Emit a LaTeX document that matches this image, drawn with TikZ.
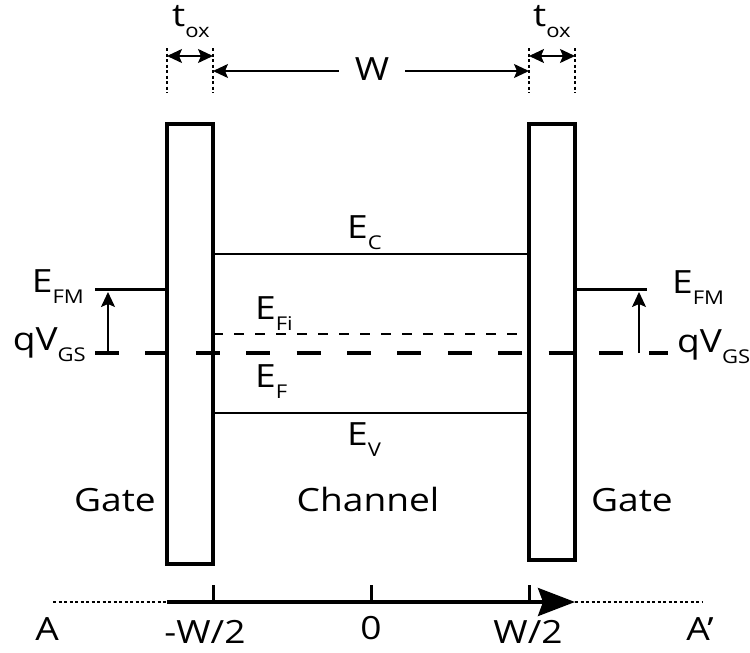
\documentclass[tikz,border=0pt]{standalone}
\usepackage{fontspec}
\setmainfont[FakeStretch=1.16]{Open Sans}
\usetikzlibrary{arrows.meta}
\newcommand{\lvl}[2]{#1\raisebox{-11pt}{\fontsize{19}{19}\selectfont #2}}

\begin{document}
\begin{tikzpicture}[x=1pt, y=-1pt, >={Stealth[length=15pt,width=14pt,inset=3pt]}]
    \tikzset{
        lbl/.style={inner sep=0pt, font=\fontsize{32}{36}\selectfont},
        gatebox/.style={draw, line width=4pt, inner sep=0pt, minimum width=46pt},
        band/.style={line width=2.8pt},
        guide/.style={line width=1.5pt, dash pattern=on 3pt off 2.5pt},
        dimarrow/.style={line width=1.6pt},
    }
    \useasboundingbox (0,0) rectangle (750,653);

    % 栅极
    \node[gatebox, minimum height=440pt] (gL) at (190,344) {};
    \node[gatebox, minimum height=436pt] (gR) at (552,342) {};

    % 尺寸线
    \foreach \x/\n in {167/a, 213/b, 529/c, 575/d} {
        \draw[guide] (\x,48) -- (\x,93);
        \coordinate (m\n) at (\x,56);
        \coordinate (w\n) at (\x,71);
    }
    \draw[dimarrow, <->] (ma) -- (mb);
    \draw[dimarrow, <->] (mc) -- (md);
    \node[lbl, anchor=base] (toxL) at (191,27) {\lvl{t}{ox}};
    \node[lbl, anchor=base] (toxR) at (552,27) {\lvl{t}{ox}};
    \node[lbl, inner xsep=16pt] (W) at (372,69) {W};
    \draw[dimarrow, ->] (W.west |- wb) -- (wb);
    \draw[dimarrow, ->] (W.east |- wc) -- (wc);

    % 能带
    \draw[band] (213,254) coordinate (ecL) -- (529,254) coordinate (ecR);
    \draw[band] (213,413) coordinate (evL) -- (529,413) coordinate (evR);
    \draw[line width=1.2pt, dash pattern=on 10pt off 11pt] (213,334) coordinate (eiL) -- (518,334) coordinate (eiR);
    \draw[line width=3.5pt, dash pattern=on 24pt off 26.4pt] (95,353) coordinate (efL) -- (668,353) coordinate (efR);
    \node[lbl, anchor=base west] (Ec) at (347,238) {\lvl{E}{C}};
    \node[lbl, anchor=base west] (Ev) at (347,445) {\lvl{E}{V}};
    \node[lbl, anchor=base west] (Ei) at (255,319) {\lvl{E}{Fi}};
    \node[lbl, anchor=base west] (Ef) at (255,387) {\lvl{E}{F}};

    % 金属费米能级
    \draw[line width=3pt] (95,289) coordinate (fmL) -- (167,289) coordinate (gfL);
    \draw[line width=3pt] (575,289) coordinate (gfR) -- (647,289) coordinate (fmR);
    \coordinate (qL0) at (108,353); \coordinate (qL1) at (108,292);
    \coordinate (qR0) at (639,353); \coordinate (qR1) at (639,292);
    \draw[dimarrow, ->] (qL0) -- (qL1);
    \draw[dimarrow, ->] (qR0) -- (qR1);
    \node[lbl, anchor=base east] (EfmL) at (84,292) {\lvl{E}{FM}};
    \node[lbl, anchor=base east] (qvL) at (86,350) {\lvl{qV}{GS}};
    \node[lbl, anchor=base west] (EfmR) at (672,293) {\lvl{E}{FM}};
    \node[lbl, anchor=base west] (qvR) at (677,352) {\lvl{qV}{GS}};

    % 区域
    \node[lbl, anchor=base] (gateL) at (115,511) {Gate};
    \node[lbl, anchor=base] (chan) at (368,511) {Channel};
    \node[lbl, anchor=base] (gateR) at (632,511) {Gate};

    % 坐标轴
    \coordinate (aL) at (53,602); \coordinate (a0) at (167,602);
    \coordinate (a1) at (575,602); \coordinate (aR) at (703,602);
    \draw[guide] (aL) -- (a0);
    \draw[line width=3.5pt, -{Stealth[length=37pt,width=28pt,inset=5pt]}] (a0) -- (a1);
    \draw[guide] (a1) -- (aR);
    \foreach \x in {213, 371, 529} {
        \draw[line width=3pt] (\x,585) -- (\x,602);
    }
    \node[lbl, anchor=base] (A) at (47,640) {A};
    \node[lbl, anchor=base] (mW) at (205,643) {-W/2};
    \node[lbl, anchor=base] (zero) at (371,639) {0};
    \node[lbl, anchor=base] (pW) at (528,643) {W/2};
    \node[lbl, anchor=base] (Ap) at (700,640) {A’};
\end{tikzpicture}
\end{document}
